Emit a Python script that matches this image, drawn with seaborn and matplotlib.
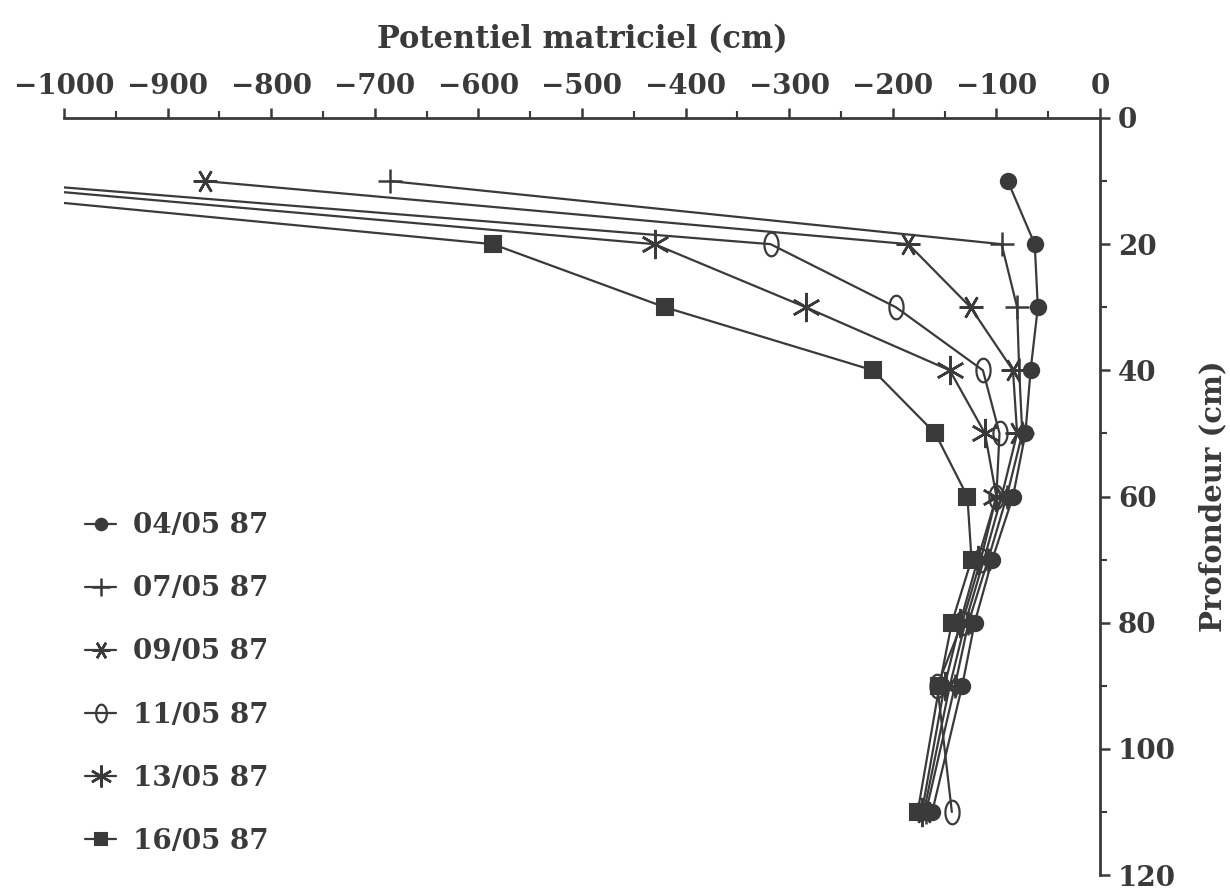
import numpy as np
import pandas as pd
import seaborn as sns
import matplotlib.pyplot as plt
from matplotlib.path import Path
from matplotlib.ticker import MultipleLocator

# profondeurs mesurées (cm)
depth = [10, 20, 30, 40, 50, 60, 70, 80, 90, 110]

# potentiel matriciel (cm), une liste par date
dates = ["04/05 87", "07/05 87", "09/05 87", "11/05 87", "13/05 87", "16/05 87"]
pot_0405 = [-89, -63, -60, -67, -72, -84, -104, -121, -133, -162]
pot_0705 = [-685, -95, -80, -78, -75, -90, -108, -127, -140, -168]
pot_0905 = [-864, -185, -125, -84, -80, -95, -112, -130, -145, -170]
pot_1105 = [-1076, -318, -197, -113, -97, -100, -115, -133, -157, -143]
pot_1305 = [-1122, -430, -284, -145, -111, -100, -118, -135, -150, -172]
pot_1605 = [-1220, -586, -420, -219, -159, -128, -124, -143, -155, -176]

series = [pot_0405, pot_0705, pot_0905, pot_1105, pot_1305, pot_1605]
rows = []
for d, vals in zip(dates, series):
    for z, p in zip(depth, vals):
        rows.append({"date": d, "profondeur": z, "potentiel": p})
df = pd.DataFrame(rows)

ink = "#3a3a3a"

# marqueur "theta" : ellipse ouverte
t = np.linspace(0, 2 * np.pi, 60)
theta_marker = Path(np.column_stack([0.6 * np.sin(t), np.cos(t)]))

styles = {
    "04/05 87": dict(marker="o", ms=11, mfc=ink, mew=1.5),
    "07/05 87": dict(marker="+", ms=17, mfc=ink, mew=1.8),
    "09/05 87": dict(marker=(6, 2, 90), ms=17, mfc=ink, mew=1.8),
    "11/05 87": dict(marker=theta_marker, ms=17, mfc="none", mew=1.6),
    "13/05 87": dict(marker=(6, 2, 0), ms=21, mfc=ink, mew=1.8),
    "16/05 87": dict(marker="s", ms=12, mfc=ink, mew=1.5),
}

sns.set_theme(style="white")
plt.rcParams["font.family"] = ["DejaVu Serif"]
plt.rcParams["font.weight"] = "bold"
plt.rcParams["text.color"] = ink
plt.rcParams["axes.labelcolor"] = ink
plt.rcParams["xtick.color"] = ink
plt.rcParams["ytick.color"] = ink

fig = plt.figure(figsize=(12.3, 8.9), dpi=100)
ax = fig.add_axes([64 / 1230, 15 / 890, 1036 / 1230, 757 / 890])

for d in dates:
    sns.lineplot(
        data=df[df["date"] == d], x="potentiel", y="profondeur",
        orient="y", errorbar=None, color=ink, lw=1.6, mec=ink,
        label=d, ax=ax, **styles[d]
    )

ax.set_xlim(-1000, 0)
ax.set_ylim(120, 0)

# axes en haut et à droite, comme sur l'original
ax.xaxis.tick_top()
ax.xaxis.set_label_position("top")
ax.yaxis.tick_right()
ax.yaxis.set_label_position("right")
for side in ["left", "bottom"]:
    ax.spines[side].set_visible(False)
for side in ["top", "right"]:
    ax.spines[side].set_color(ink)
    ax.spines[side].set_linewidth(2)

ax.xaxis.set_major_locator(MultipleLocator(100))
ax.xaxis.set_minor_locator(MultipleLocator(50))
ax.yaxis.set_major_locator(MultipleLocator(20))
ax.yaxis.set_minor_locator(MultipleLocator(10))
ax.tick_params(axis="both", which="major", direction="out", length=7, width=1.8,
               labelsize=20, pad=6)
ax.tick_params(axis="both", which="minor", direction="out", length=5, width=1.5)

ax.set_xlabel("Potentiel matriciel (cm)", fontsize=22, fontweight="bold", labelpad=18)
ax.set_ylabel("Profondeur (cm)", fontsize=21, fontweight="bold", labelpad=16,
              rotation=90)

ax.legend(loc="lower left", bbox_to_anchor=(0.01, 0.012), borderaxespad=0,
          frameon=False, fontsize=20, labelspacing=1.3, handlelength=1.1,
          handletextpad=0.6, markerscale=0.75)

fig.savefig("out.png", dpi=100)
